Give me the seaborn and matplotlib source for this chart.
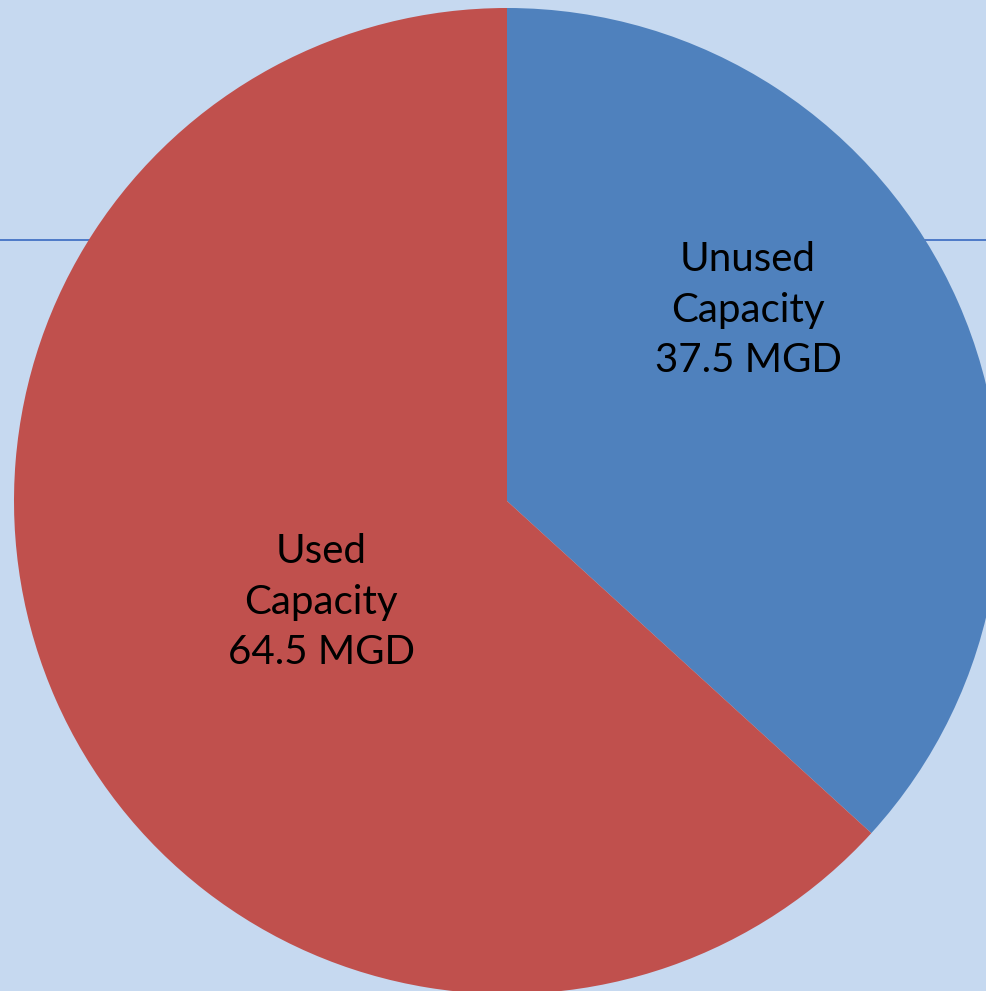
import matplotlib
matplotlib.use("Agg")
import matplotlib.pyplot as plt
import seaborn as sns

categories = ["Unused\nCapacity\n37.5 MGD", "Used\nCapacity\n64.5 MGD"]
values = [37.5, 64.5]
colors = ["#4F81BD", "#C0504D"]

sns.set_theme(style="white")
plt.rcParams['font.family'] = ['Lato', 'DejaVu Sans']

bg = "#C6D9F0"
fig = plt.figure(figsize=(9.86, 9.91), dpi=100, facecolor=bg)
ax = fig.add_axes([0, 0, 1, 1])
ax.set_facecolor(bg)

ax.axhline(0.5294, color="#4472C4", lw=1.3, zorder=0)

wedges, _ = ax.pie(values, startangle=90, counterclock=False, colors=colors,
                   radius=1.0, center=(0, 0),
                   wedgeprops=dict(edgecolor="none", linewidth=0))
for w in wedges:
    w.set_zorder(2)

label_pos = [(0.489, 0.387), (-0.377, -0.205)]
for (x, y), txt in zip(label_pos, categories):
    ax.text(x, y, txt, ha="center", va="center", fontsize=29,
            color="black", linespacing=1.45, zorder=3)

ax.set_xlim(-507 / 493, (986 - 507) / 493)
ax.set_ylim(-(991 - 501) / 493, 501 / 493)
ax.set_aspect("equal", adjustable="box")
ax.axis("off")

fig.savefig("out.png", dpi=100, facecolor=bg)
